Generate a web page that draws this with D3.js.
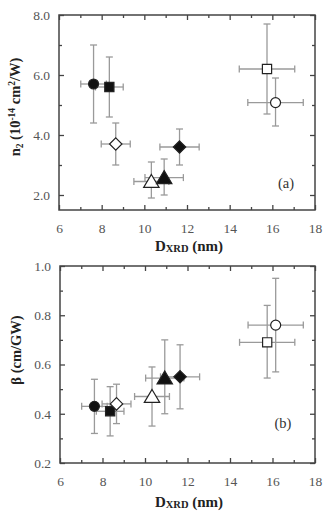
<!DOCTYPE html>
<html>
<head>
<meta charset="utf-8" />
<script src="https://d3js.org/d3.v7.min.js"></script>
<style>
  body { margin: 0; background: #fff; }
  svg text { font-family: "Liberation Serif", "Times New Roman", serif !important; }
</style>
</head>
<body>
<div id="chart"></div>
<script>
// marker kinds, one per sample
var shapes = ["circle", "square", "diamond", "diamond", "triangle", "triangle", "square", "circle"];
var filled = [true, true, false, true, false, true, false, false];

// crystallite size D_XRD (nm) and its error
var dxrd = [7.62, 8.36, 8.66, 11.65, 10.33, 10.93, 15.75, 16.15];
var dxrdErr = [0.6, 0.65, 0.68, 0.92, 0.82, 0.9, 1.3, 1.3];

// panel (a): n2 (1e-14 cm2/W) with low/high error bar ends
var n2 = [5.7, 5.6, 3.7, 3.6, 2.45, 2.58, 6.2, 5.08];
var n2Lo = [4.4, 4.6, 3.0, 3.0, 1.9, 2.0, 4.7, 4.3];
var n2Hi = [7.0, 6.6, 4.4, 4.2, 3.1, 3.2, 7.7, 5.9];

// panel (b): beta (cm/GW)
var beta = [0.43, 0.41, 0.44, 0.55, 0.47, 0.545, 0.69, 0.76];
var betaLo = [0.32, 0.31, 0.36, 0.42, 0.35, 0.40, 0.545, 0.57];
var betaHi = [0.54, 0.51, 0.52, 0.68, 0.59, 0.70, 0.84, 0.95];

var xTicks = [6, 8, 10, 12, 14, 16, 18];

var svg = d3.select("#chart").append("svg")
  .attr("width", 324).attr("height", 513);
svg.append("rect").attr("width", 324).attr("height", 513).attr("fill", "#fff");

// marker outlines, r = half size in px
function marker(kind, r) {
  if (kind === "circle") return d3.symbol().type(d3.symbolCircle).size(Math.PI * r * r)();
  if (kind === "square") return "M" + -r + "," + -r + "H" + r + "V" + r + "H" + -r + "Z";
  if (kind === "diamond") return "M0," + -r + "L" + r + ",0L0," + r + "L" + -r + ",0Z";
  // triangle, a bit wider than tall
  return "M0," + (-r) + "L" + (r * 1.1) + "," + (r * 0.85) + "L" + (-r * 1.1) + "," + (r * 0.85) + "Z";
}
var markerR = { circle: 5, square: 4.6, diamond: 6.2, triangle: 7 };

function drawPanel(opt) {
  var x = d3.scaleLinear().domain([6, 18]).range([opt.left, 315]);
  var y = d3.scaleLinear().domain(opt.yDomain).range([opt.bottom, opt.top]);
  var g = svg.append("g");

  var xMinor = d3.range(7, 18, 2);
  var yMinor = opt.yMinor;

  function styleAxis(sel) {
    sel.attr("font-family", null);
    sel.select(".domain").remove();
    sel.selectAll("line").attr("stroke", "#444").attr("stroke-width", 1.3);
    sel.selectAll("text").attr("fill", "#555").style("font-size", "13.5px");
  }

  // bottom
  g.append("g").attr("transform", "translate(0," + opt.bottom + ")")
    .call(d3.axisBottom(x).tickValues(xTicks).tickSizeInner(-5).tickSizeOuter(0).tickPadding(13).tickFormat(d3.format("d")))
    .call(styleAxis);
  g.append("g").attr("transform", "translate(0," + opt.bottom + ")")
    .call(d3.axisBottom(x).tickValues(xMinor).tickSizeInner(-3).tickSizeOuter(0).tickFormat(""))
    .call(styleAxis);
  // top
  g.append("g").attr("transform", "translate(0," + opt.top + ")")
    .call(d3.axisTop(x).tickValues(xTicks).tickSizeInner(-5).tickSizeOuter(0).tickFormat(""))
    .call(styleAxis);
  g.append("g").attr("transform", "translate(0," + opt.top + ")")
    .call(d3.axisTop(x).tickValues(xMinor).tickSizeInner(-3).tickSizeOuter(0).tickFormat(""))
    .call(styleAxis);
  // left
  g.append("g").attr("transform", "translate(" + opt.left + ",0)")
    .call(d3.axisLeft(y).tickValues(opt.yTicks).tickSizeInner(-5).tickSizeOuter(0).tickPadding(9).tickFormat(d3.format(".1f")))
    .call(styleAxis);
  g.append("g").attr("transform", "translate(" + opt.left + ",0)")
    .call(d3.axisLeft(y).tickValues(yMinor).tickSizeInner(-3).tickSizeOuter(0).tickFormat(""))
    .call(styleAxis);
  // right
  g.append("g").attr("transform", "translate(315,0)")
    .call(d3.axisRight(y).tickValues(opt.yTicks).tickSizeInner(-5).tickSizeOuter(0).tickFormat(""))
    .call(styleAxis);
  g.append("g").attr("transform", "translate(315,0)")
    .call(d3.axisRight(y).tickValues(yMinor).tickSizeInner(-3).tickSizeOuter(0).tickFormat(""))
    .call(styleAxis);

  // frame
  g.append("rect")
    .attr("x", opt.left).attr("y", opt.top)
    .attr("width", 315 - opt.left).attr("height", opt.bottom - opt.top)
    .attr("fill", "none").attr("stroke", "#444").attr("stroke-width", 1.5);

  var idx = d3.range(dxrd.length);
  var eb = g.append("g").attr("stroke", "#9a9a9a").attr("stroke-width", 1.3);
  var cap = 3.5;
  idx.forEach(function (i) {
    var cx = x(dxrd[i]), cy = y(opt.vals[i]);
    var x0 = x(dxrd[i] - dxrdErr[i]), x1 = x(dxrd[i] + dxrdErr[i]);
    var y0 = y(opt.lo[i]), y1 = y(opt.hi[i]);
    eb.append("line").attr("x1", x0).attr("x2", x1).attr("y1", cy).attr("y2", cy);
    eb.append("line").attr("x1", x0).attr("x2", x0).attr("y1", cy - cap).attr("y2", cy + cap);
    eb.append("line").attr("x1", x1).attr("x2", x1).attr("y1", cy - cap).attr("y2", cy + cap);
    eb.append("line").attr("x1", cx).attr("x2", cx).attr("y1", y0).attr("y2", y1);
    eb.append("line").attr("x1", cx - cap).attr("x2", cx + cap).attr("y1", y0).attr("y2", y0);
    eb.append("line").attr("x1", cx - cap).attr("x2", cx + cap).attr("y1", y1).attr("y2", y1);
  });

  g.append("g").selectAll("path")
    .data(idx).enter().append("path")
    .attr("transform", function (i) { return "translate(" + x(dxrd[i]) + "," + y(opt.vals[i]) + ")"; })
    .attr("d", function (i) { return marker(shapes[i], markerR[shapes[i]]); })
    .attr("fill", function (i) { return filled[i] ? "#111" : "#fff"; })
    .attr("stroke", "#222").attr("stroke-width", 1.2);

  // panel tag
  g.append("text").attr("x", opt.tagX).attr("y", opt.tagY)
    .attr("text-anchor", "middle").attr("fill", "#333").style("font-size", "14.5px")
    .text(opt.tag);

  // x title
  var xt = g.append("text").attr("x", 189).attr("y", opt.xTitleY)
    .attr("text-anchor", "middle").attr("fill", "#222")
    .style("font-size", "15px").style("font-weight", "bold");
  xt.append("tspan").text("D");
  xt.append("tspan").attr("dy", 1).style("font-size", "10.5px").text("XRD");
  xt.append("tspan").attr("dy", -1).text(" (nm)");

  return g;
}

drawPanel({
  left: 59, top: 15, bottom: 210,
  yDomain: [1.5, 8.0], yTicks: [2, 4, 6, 8], yMinor: [3, 5, 7],
  vals: n2, lo: n2Lo, hi: n2Hi,
  tag: "(a)", tagX: 286, tagY: 188, xTitleY: 251
});

drawPanel({
  left: 60, top: 266, bottom: 463,
  yDomain: [0.2, 1.0], yTicks: [0.2, 0.4, 0.6, 0.8, 1.0], yMinor: [0.3, 0.5, 0.7, 0.9],
  vals: beta, lo: betaLo, hi: betaHi,
  tag: "(b)", tagX: 283, tagY: 428, xTitleY: 507
});

// y titles
var ya = svg.append("text")
  .attr("transform", "translate(20,107) rotate(-90)")
  .attr("text-anchor", "middle").attr("fill", "#222")
  .style("font-size", "14.5px").style("font-weight", "bold");
ya.append("tspan").text("n");
ya.append("tspan").attr("dy", 3).style("font-size", "9.5px").text("2");
ya.append("tspan").attr("dy", -3).text(" (10");
ya.append("tspan").attr("dy", -5).style("font-size", "9.5px").text("-14");
ya.append("tspan").attr("dy", 5).text(" cm");
ya.append("tspan").attr("dy", -5).style("font-size", "9.5px").text("2");
ya.append("tspan").attr("dy", 5).text("/W)");

svg.append("text")
  .attr("transform", "translate(21,350) rotate(-90)")
  .attr("text-anchor", "middle").attr("fill", "#222")
  .style("font-size", "14.5px").style("font-weight", "bold")
  .text("β (cm/GW)");
</script>
</body>
</html>
